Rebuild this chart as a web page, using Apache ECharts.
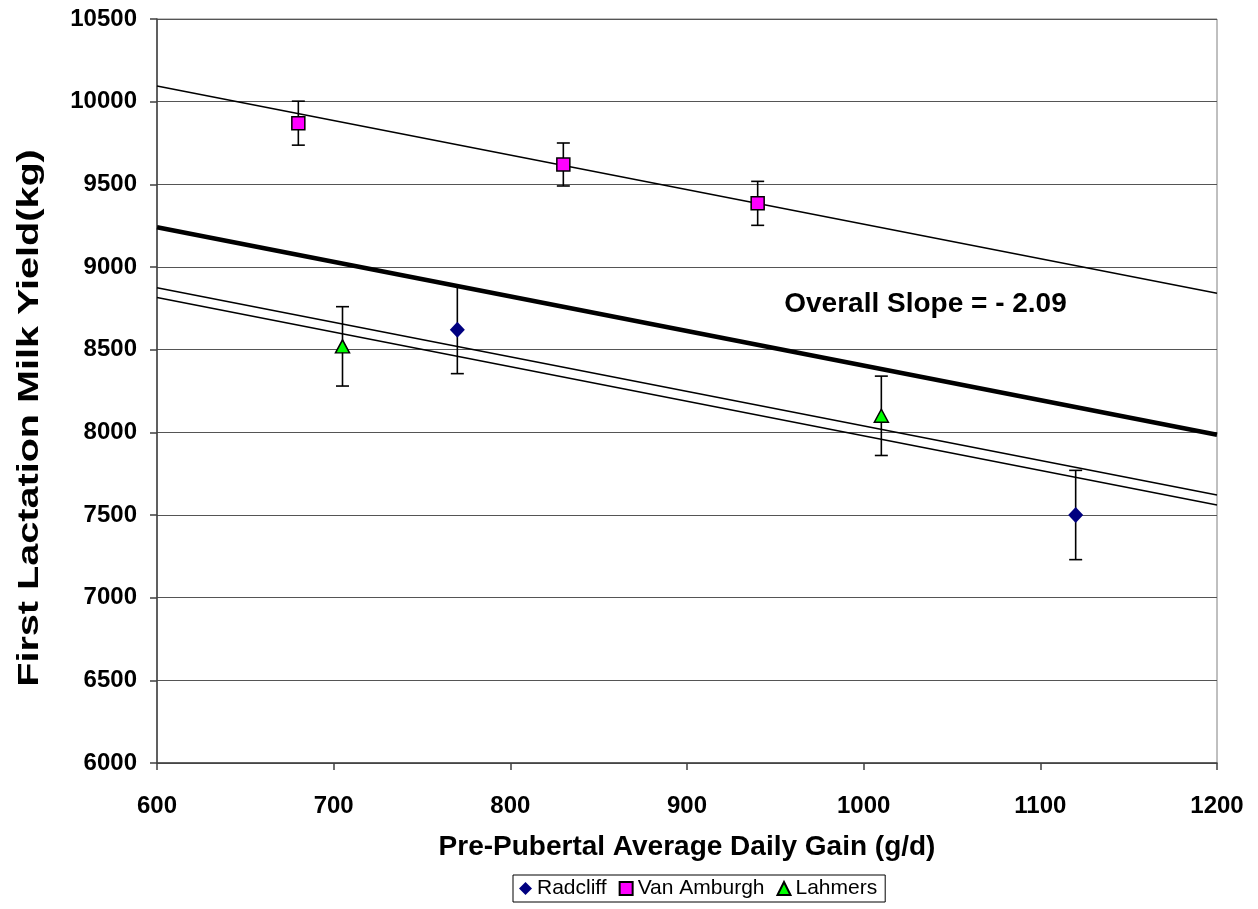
<!DOCTYPE html>
<html>
<head>
<meta charset="utf-8">
<script src="https://cdn.jsdelivr.net/npm/echarts@6/dist/echarts.min.js"></script>
<style>html,body{margin:0;padding:0;background:#fff;}#c{width:1258px;height:909px;}</style>
</head>
<body>
<div id="c"></div>
<script>
// ---- data ----
var xTicks = [600, 700, 800, 900, 1000, 1100, 1200];
var yTicks = [6000, 6500, 7000, 7500, 8000, 8500, 9000, 9500, 10000, 10500];

var radcliffX = [770, 1120];
var radcliffY = [8620, 7500];
var radcliffErr = [265, 270];

var vanAmburghX = [680, 830, 940];
var vanAmburghY = [9870, 9620, 9385];
var vanAmburghErr = [133, 130, 133];

var lahmersX = [705, 1010];
var lahmersY = [8520, 8100];
var lahmersErr = [240, 240];

// trend lines (endpoints at x = 600 and x = 1200)
var trendX = [600, 1200];
var overallY = [9240, 7985];
var vanAmburghTrendY = [10095, 8841];
var upperTrendY = [8875, 7621];
var lowerTrendY = [8815, 7561];

var slopeLabel = 'Overall Slope = - 2.09';
var slopeLabelPos = [1035, 8776];
var yTitle = 'First Lactation Milk Yield(kg)';
var xTitle = 'Pre-Pubertal Average Daily Gain (g/d)';

function pts(xs, ys) { return xs.map(function (x, i) { return [x, ys[i]]; }); }
function errData(xs, ys, es) { return xs.map(function (x, i) { return [x, ys[i] - es[i], ys[i] + es[i]]; }); }

var FONT = '"Liberation Sans", Arial, sans-serif';

function errorSeries(xs, ys, es) {
  return {
    type: 'custom',
    silent: true,
    z: 3,
    data: errData(xs, ys, es),
    renderItem: function (params, api) {
      var x = api.value(0);
      var lo = api.coord([x, api.value(1)]);
      var hi = api.coord([x, api.value(2)]);
      var w = 6.5;
      var st = { stroke: '#000', lineWidth: 1.6 };
      return {
        type: 'group',
        children: [
          { type: 'line', shape: { x1: lo[0], y1: lo[1], x2: hi[0], y2: hi[1] }, style: st },
          { type: 'line', shape: { x1: lo[0] - w, y1: lo[1], x2: lo[0] + w, y2: lo[1] }, style: st },
          { type: 'line', shape: { x1: hi[0] - w, y1: hi[1], x2: hi[0] + w, y2: hi[1] }, style: st }
        ]
      };
    }
  };
}

function trend(ys, width) {
  return {
    type: 'line', silent: true, symbol: 'none', z: 2,
    data: pts(trendX, ys),
    lineStyle: { color: '#000', width: width }
  };
}

var chart = echarts.init(document.getElementById('c'));
chart.setOption({
  animation: false,
  backgroundColor: '#fff',
  grid: { left: 157, top: 19, right: 41, bottom: 146, show: true, borderColor: '#808080', borderWidth: 1 },
  graphic: [{
    type: 'text', left: null, x: 30, y: 418, rotation: Math.PI / 2, scaleX: 1.32, scaleY: 1,
    silent: true,
    style: { text: yTitle, fontFamily: FONT, fontSize: 30, fontWeight: 'bold', fill: '#000',
      align: 'center', verticalAlign: 'middle', textAlign: 'center', textVerticalAlign: 'middle' }
  }],
  legend: {
    left: 513, top: 875,
    orient: 'horizontal',
    data: ['Radcliff', 'Van Amburgh', 'Lahmers'],
    borderColor: '#000', borderWidth: 1,
    padding: [3, 8, 3, 6],
    itemGap: 12, itemWidth: 13, itemHeight: 13,
    textStyle: { fontFamily: FONT, fontSize: 21, color: '#000' }
  },
  xAxis: {
    type: 'value', min: 600, max: 1200, interval: 100,
    name: xTitle,
    nameLocation: 'middle', nameGap: 70,
    nameTextStyle: { fontFamily: FONT, fontSize: 28, fontWeight: 'bold', color: '#000' },
    axisLine: { show: true, onZero: false, lineStyle: { color: '#404040', width: 1.5 } },
    axisTick: { show: true, inside: false, length: 7, lineStyle: { color: '#404040', width: 1.5 } },
    axisLabel: { margin: 31, fontFamily: FONT, fontSize: 24, fontWeight: 'bold', color: '#000',
      formatter: function (v) { return xTicks.indexOf(v) >= 0 ? String(v) : ''; } },
    splitLine: { show: false }
  },
  yAxis: {
    type: 'value', min: 6000, max: 10500, interval: 500,
    axisLine: { show: true, onZero: false, lineStyle: { color: '#404040', width: 1.5 } },
    axisTick: { show: true, inside: false, length: 7, lineStyle: { color: '#404040', width: 1.5 } },
    axisLabel: { margin: 20, fontFamily: FONT, fontSize: 24, fontWeight: 'bold', color: '#000',
      formatter: function (v) { return yTicks.indexOf(v) >= 0 ? String(v) : ''; } },
    splitLine: { show: true, lineStyle: { color: '#555', width: 1 } }
  },
  series: [
    trend(overallY, 4.5),
    trend(vanAmburghTrendY, 1.5),
    trend(upperTrendY, 1.5),
    trend(lowerTrendY, 1.5),
    errorSeries(radcliffX, radcliffY, radcliffErr),
    errorSeries(vanAmburghX, vanAmburghY, vanAmburghErr),
    errorSeries(lahmersX, lahmersY, lahmersErr),
    {
      name: 'Radcliff', type: 'scatter', z: 5, symbol: 'diamond', symbolSize: [15, 16],
      data: pts(radcliffX, radcliffY),
      itemStyle: { color: '#000080', borderWidth: 0, opacity: 1 }
    },
    {
      name: 'Van Amburgh', type: 'scatter', z: 5, symbol: 'rect', symbolSize: 13,
      data: pts(vanAmburghX, vanAmburghY),
      itemStyle: { color: '#FF00FF', borderColor: '#000', borderWidth: 1.5, opacity: 1 }
    },
    {
      name: 'Lahmers', type: 'scatter', z: 5, symbol: 'triangle', symbolSize: [14, 13],
      data: pts(lahmersX, lahmersY),
      itemStyle: { color: '#00FF00', borderColor: '#000', borderWidth: 1.5, opacity: 1 }
    },
    {
      type: 'scatter', silent: true, symbolSize: 0, z: 6,
      data: [slopeLabelPos],
      itemStyle: { opacity: 1 },
      label: { show: true, position: 'inside', formatter: slopeLabel,
        fontFamily: FONT, fontSize: 28, fontWeight: 'bold', color: '#000' }
    }
  ]
});
</script>
</body>
</html>
